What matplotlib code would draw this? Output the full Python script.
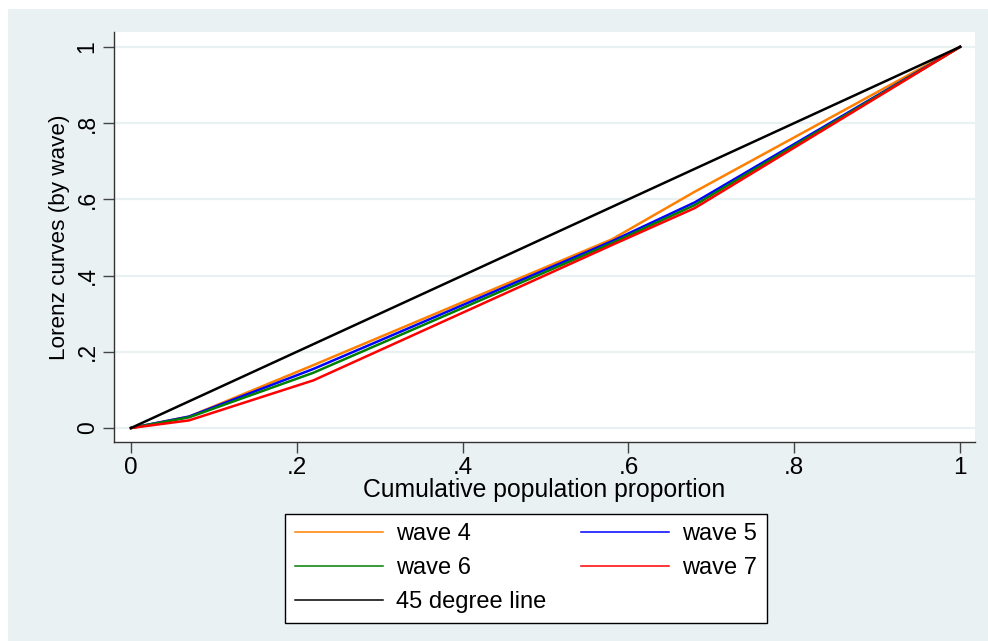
import numpy as np
import matplotlib.pyplot as plt
from matplotlib.lines import Line2D
from matplotlib.patches import Rectangle

# cumulative population share at the curve breakpoints
pop_share = [0.0, 0.07, 0.22, 0.58, 0.68, 1.0]

# cumulative share for each wave
wave4 = [0.0, 0.030, 0.165, 0.495, 0.620, 1.0]
wave5 = [0.0, 0.030, 0.155, 0.490, 0.592, 1.0]
wave6 = [0.0, 0.028, 0.145, 0.485, 0.585, 1.0]
wave7 = [0.0, 0.020, 0.125, 0.480, 0.577, 1.0]

series_names = ['wave 4', 'wave 5', 'wave 6', 'wave 7']
series_colors = ['#FF8000', '#0000FF', '#008000', '#FF0000']

ticks = [0, 0.2, 0.4, 0.6, 0.8, 1]
tick_labels = ['0', '.2', '.4', '.6', '.8', '1']

bg = '#EAF1F3'
fs = 17.5
plt.rcParams['font.family'] = ['Liberation Sans', 'DejaVu Sans']

fig = plt.figure(figsize=(9.88, 6.41), dpi=100)
fig.patch.set_facecolor('white')
fig.patches.append(Rectangle((8 / 988, 0), 1, 1 - 9 / 641, transform=fig.transFigure,
                             facecolor=bg, edgecolor='none', zorder=-10))

ax = fig.add_axes([114 / 988, 1 - 442 / 641, (975 - 114) / 988, (442 - 32) / 641])
ax.set_facecolor('white')

for ys, name, col in zip([wave4, wave5, wave6, wave7], series_names, series_colors):
    ax.plot(pop_share, ys, color=col, lw=1.8, zorder=3)
ax.plot([0, 1], [0, 1], color='black', lw=1.8, zorder=4)

ax.set_xlim(-0.0205, 1.018)
ax.set_ylim(-0.0367, 1.039)
ax.set_xticks(ticks)
ax.set_xticklabels(tick_labels)
ax.set_yticks(ticks)
ax.set_yticklabels(tick_labels, rotation=90, va='center')
ax.tick_params(axis='x', labelsize=fs, length=8, width=1, color='#444444', pad=3)
ax.tick_params(axis='y', labelsize=16.5, length=8, width=1, color='#444444', pad=3)
ax.grid(axis='y', color=bg, lw=1.6)
ax.set_axisbelow(True)

for side in ['top', 'right']:
    ax.spines[side].set_visible(False)
for side in ['left', 'bottom']:
    ax.spines[side].set_color('#333333')
    ax.spines[side].set_linewidth(1)

ax.set_xlabel('Cumulative population proportion', fontsize=17.8, labelpad=-1)
ax.set_ylabel('Lorenz curves (by wave)', fontsize=16.2, labelpad=4)

# legend rows: wave 4 | wave 5, wave 6 | wave 7, 45 degree line
h = {n: Line2D([], [], color=c, lw=1.1) for n, c in zip(series_names, series_colors)}
h['45 degree line'] = Line2D([], [], color='black', lw=1.1)
order = ['wave 4', 'wave 6', '45 degree line', 'wave 5', 'wave 7']
leg = fig.legend([h[n] for n in order], order, ncol=2, loc='upper center',
                 bbox_to_anchor=(526 / 988, 1 - 514 / 641), fontsize=17,
                 frameon=True, fancybox=False, edgecolor='black', framealpha=1,
                 handlelength=3.73, handletextpad=0.55, columnspacing=1.48,
                 labelspacing=0.5, borderpad=0.4, borderaxespad=0)
leg.get_frame().set_linewidth(1)

fig.savefig('out.png', dpi=100, facecolor=fig.get_facecolor())
